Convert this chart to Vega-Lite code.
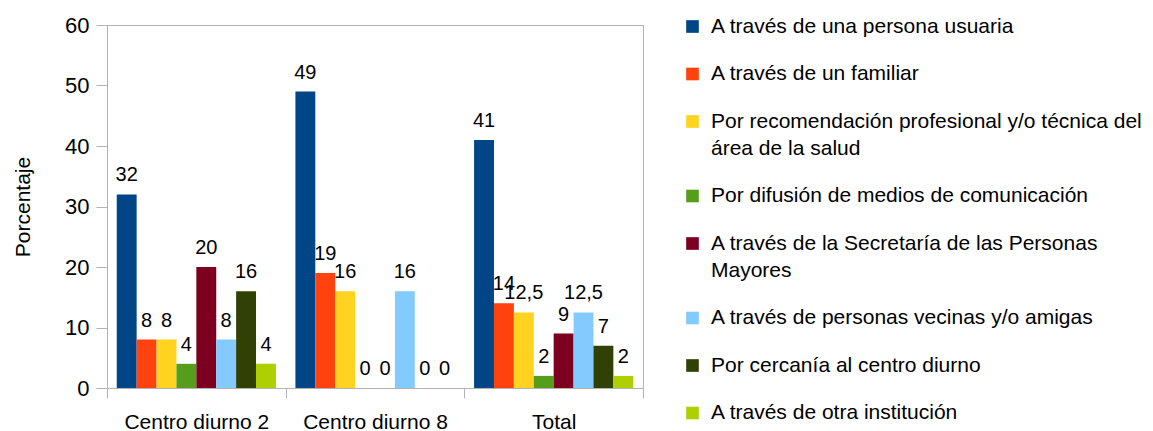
{
  "$schema": "https://vega.github.io/schema/vega-lite/v6.json",
  "autosize": "none",
  "width": 536,
  "height": 363,
  "padding": {"left": 107, "top": 25, "right": 510, "bottom": 43},
  "config": {
    "font": "Liberation Sans",
    "view": {"stroke": "#b3b3b3", "strokeWidth": 1},
    "style": {"guide-label": {"lineHeight": 27}},
    "locale": {"number": {"decimal": ",", "thousands": ".", "grouping": [3], "currency": ["", " €"]}}
  },
  "data": {
    "values": [
      {"centro": "Centro diurno 2", "via": "A través de una persona usuaria", "valor": 32},
      {"centro": "Centro diurno 2", "via": "A través de un familiar", "valor": 8},
      {"centro": "Centro diurno 2", "via": "Por recomendación profesional y/o técnica del área de la salud", "valor": 8},
      {"centro": "Centro diurno 2", "via": "Por difusión de medios de comunicación", "valor": 4},
      {"centro": "Centro diurno 2", "via": "A través de la Secretaría de las Personas Mayores", "valor": 20},
      {"centro": "Centro diurno 2", "via": "A través de personas vecinas y/o amigas", "valor": 8},
      {"centro": "Centro diurno 2", "via": "Por cercanía al centro diurno", "valor": 16},
      {"centro": "Centro diurno 2", "via": "A través de otra institución", "valor": 4},
      {"centro": "Centro diurno 8", "via": "A través de una persona usuaria", "valor": 49},
      {"centro": "Centro diurno 8", "via": "A través de un familiar", "valor": 19},
      {"centro": "Centro diurno 8", "via": "Por recomendación profesional y/o técnica del área de la salud", "valor": 16},
      {"centro": "Centro diurno 8", "via": "Por difusión de medios de comunicación", "valor": 0},
      {"centro": "Centro diurno 8", "via": "A través de la Secretaría de las Personas Mayores", "valor": 0},
      {"centro": "Centro diurno 8", "via": "A través de personas vecinas y/o amigas", "valor": 16},
      {"centro": "Centro diurno 8", "via": "Por cercanía al centro diurno", "valor": 0},
      {"centro": "Centro diurno 8", "via": "A través de otra institución", "valor": 0},
      {"centro": "Total", "via": "A través de una persona usuaria", "valor": 41},
      {"centro": "Total", "via": "A través de un familiar", "valor": 14},
      {"centro": "Total", "via": "Por recomendación profesional y/o técnica del área de la salud", "valor": 12.5},
      {"centro": "Total", "via": "Por difusión de medios de comunicación", "valor": 2},
      {"centro": "Total", "via": "A través de la Secretaría de las Personas Mayores", "valor": 9},
      {"centro": "Total", "via": "A través de personas vecinas y/o amigas", "valor": 12.5},
      {"centro": "Total", "via": "Por cercanía al centro diurno", "valor": 7},
      {"centro": "Total", "via": "A través de otra institución", "valor": 2}
    ]
  },
  "encoding": {
    "x": {
      "field": "centro", "type": "nominal",
      "sort": ["Centro diurno 2", "Centro diurno 8", "Total"],
      "scale": {"paddingInner": 0, "paddingOuter": 0},
      "axis": {
        "title": null, "labelAngle": 0, "tickBand": "extent",
        "domainColor": "#b3b3b3", "tickColor": "#b3b3b3", "tickSize": 10,
        "labelFontSize": 21, "labelColor": "#000000", "labelPadding": 13
      }
    },
    "xOffset": {
      "field": "via", "type": "nominal",
      "scale": {
        "domain": [
          "A través de una persona usuaria",
          "A través de un familiar",
          "Por recomendación profesional y/o técnica del área de la salud",
          "Por difusión de medios de comunicación",
          "A través de la Secretaría de las Personas Mayores",
          "A través de personas vecinas y/o amigas",
          "Por cercanía al centro diurno",
          "A través de otra institución"
        ],
        "paddingInner": 0, "paddingOuter": 0.49
      }
    },
    "y": {
      "field": "valor", "type": "quantitative",
      "scale": {"domain": [0, 60], "nice": false},
      "axis": {
        "title": "Porcentaje", "values": [0, 10, 20, 30, 40, 50, 60],
        "grid": false, "domainColor": "#b3b3b3", "tickColor": "#b3b3b3", "tickSize": 11,
        "labelFontSize": 22, "labelColor": "#000000", "labelPadding": 7,
        "titleFontSize": 21, "titleFontWeight": "normal", "titleColor": "#000000", "titlePadding": 31
      }
    }
  },
  "layer": [
    {
      "mark": {"type": "bar"},
      "encoding": {
        "color": {
          "field": "via", "type": "nominal",
          "scale": {
            "domain": [
              "A través de una persona usuaria",
              "A través de un familiar",
              "Por recomendación profesional y/o técnica del área de la salud",
              "Por difusión de medios de comunicación",
              "A través de la Secretaría de las Personas Mayores",
              "A través de personas vecinas y/o amigas",
              "Por cercanía al centro diurno",
              "A través de otra institución"
            ],
            "range": ["#004586", "#ff420e", "#ffd320", "#579d1c", "#7e0021", "#83caff", "#314004", "#aecf00"]
          },
          "legend": {
            "title": null, "orient": "none", "legendX": 575, "legendY": -9, "padding": 0,
            "symbolType": "square", "symbolSize": 160, "symbolStrokeWidth": 0,
            "labelFontSize": 21, "labelColor": "#000000", "labelLimit": 600, "labelOffset": 8,
            "rowPadding": 25.5,
            "labelExpr": "datum.label == 'Por recomendación profesional y/o técnica del área de la salud' ? ['Por recomendación profesional y/o técnica del', 'área de la salud'] : datum.label == 'A través de la Secretaría de las Personas Mayores' ? ['A través de la Secretaría de las Personas', 'Mayores'] : datum.label"
          }
        }
      }
    },
    {
      "mark": {"type": "text", "baseline": "alphabetic", "dy": -13, "fontSize": 20, "color": "#000000"},
      "encoding": {
        "text": {"field": "valor", "type": "quantitative", "format": "~g"}
      }
    }
  ]
}
